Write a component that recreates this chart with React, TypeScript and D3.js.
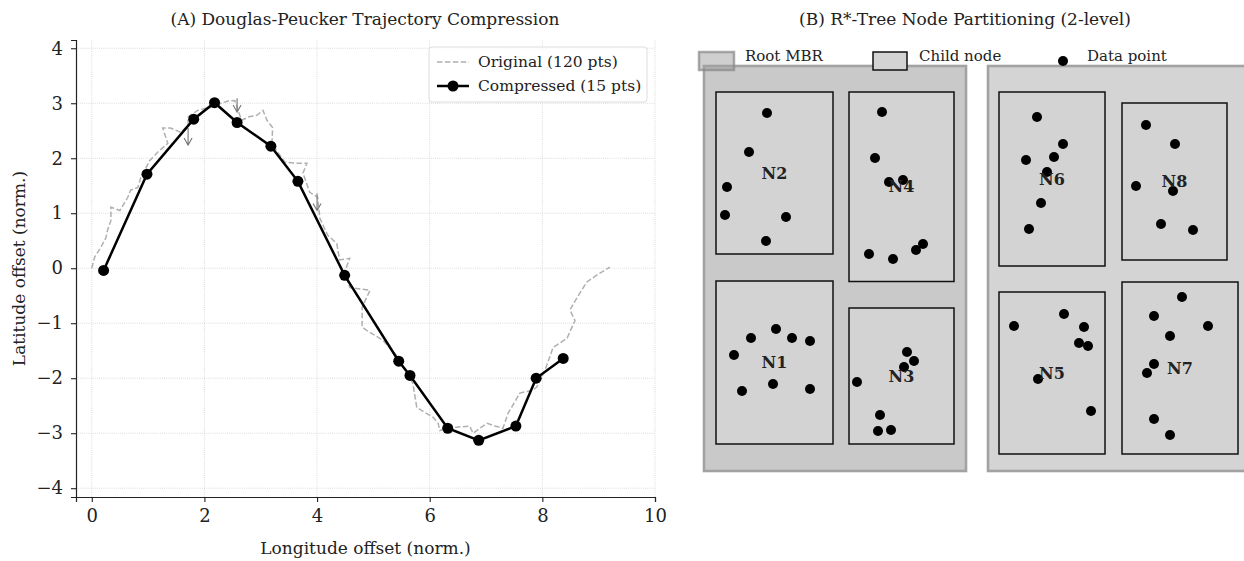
import * as d3 from "d3";
import { useEffect, useRef } from "react";

// --- Panel A: trajectory ---
const originalX = [0.0, 0.05, 0.16, 0.25, 0.28, 0.34, 0.34, 0.5, 0.64, 0.69, 0.82, 0.87, 0.96, 1.03, 1.17, 1.35, 1.26, 1.4, 1.58, 1.71, 1.71, 1.88, 2.02, 2.15, 2.29, 2.42, 2.54, 2.66, 2.81, 2.93, 3.04, 3.11, 3.21, 3.2, 3.3, 3.43, 3.62, 3.82, 3.75, 3.87, 4.01, 4.05, 4.12, 4.19, 4.35, 4.4, 4.58, 4.49, 4.58, 4.94, 4.8, 4.8, 4.88, 5.17, 5.38, 5.47, 5.58, 5.7, 5.77, 5.91, 6.06, 6.15, 6.18, 6.32, 6.48, 6.71, 6.77, 6.89, 7.02, 7.16, 7.3, 7.39, 7.5, 7.6, 7.83, 7.9, 8.05, 8.19, 8.31, 8.44, 8.58, 8.49, 8.63, 8.79, 8.99, 9.2];
const originalY = [0.0, 0.2, 0.38, 0.55, 0.69, 0.87, 1.11, 1.05, 1.29, 1.42, 1.47, 1.65, 1.82, 1.96, 2.11, 2.27, 2.55, 2.55, 2.47, 2.6, 2.75, 2.87, 2.91, 2.93, 3.0, 3.04, 3.05, 2.69, 2.76, 2.78, 2.87, 2.69, 2.56, 2.27, 2.11, 1.93, 1.91, 1.91, 1.73, 1.38, 1.29, 0.91, 0.75, 0.6, 0.45, 0.15, 0.18, -0.07, -0.35, -0.4, -0.71, -1.07, -1.13, -1.31, -1.55, -1.67, -1.89, -2.09, -2.53, -2.62, -2.71, -2.82, -2.95, -2.91, -2.89, -2.87, -3.0, -2.91, -2.82, -2.87, -2.91, -2.64, -2.45, -2.27, -2.22, -2.16, -1.85, -1.44, -1.36, -1.27, -0.95, -0.76, -0.51, -0.25, -0.11, 0.02];
const compressedX = [0.21, 0.98, 1.81, 2.18, 2.58, 3.18, 3.66, 4.49, 5.45, 5.65, 6.32, 6.87, 7.53, 7.89, 8.37];
const compressedY = [-0.04, 1.71, 2.71, 3.01, 2.65, 2.22, 1.58, -0.13, -1.69, -1.95, -2.91, -3.13, -2.87, -2.0, -1.64];
const arrowX = [1.71, 2.58, 4.0];
const arrowFromY = [2.55, 3.09, 1.36];
const arrowToY = [2.24, 2.84, 1.05];
const xTicks = [0, 2, 4, 6, 8, 10];
const yTicks = [-4, -3, -2, -1, 0, 1, 2, 3, 4];
const legendA = ["Original (120 pts)", "Compressed (15 pts)"];

// --- Panel B: R*-tree nodes ---
const rootX0 = [0, 28.4];
const rootX1 = [26.2, 55.4];
const rootY0 = [0, 0];
const rootY1 = [40.5, 40.5];
const rootFill = ["#c9c9c9", "#d4d4d4"];
const nodeNames = ["N2", "N4", "N1", "N3", "N6", "N8", "N5", "N7"];
const nodeX0 = [1.2, 14.5, 1.2, 14.5, 29.5, 41.8, 29.5, 41.8];
const nodeX1 = [12.9, 25.0, 12.9, 25.0, 40.1, 52.3, 40.1, 53.4];
const nodeY0 = [21.7, 18.95, 2.7, 2.7, 20.5, 21.1, 1.7, 1.7];
const nodeY1 = [37.9, 37.9, 19.0, 16.3, 37.9, 36.8, 17.9, 18.9];
const pointsN2 = [[6.3, 35.8], [4.5, 31.9], [2.3, 28.4], [2.1, 25.6], [8.2, 25.4], [6.2, 23.0]];
const pointsN4 = [[17.8, 35.9], [17.1, 31.3], [18.5, 28.9], [19.9, 29.1], [16.5, 21.7], [18.9, 21.2], [21.2, 22.1], [21.9, 22.7]];
const pointsN1 = [[7.2, 14.2], [4.7, 13.3], [8.8, 13.3], [10.6, 13.0], [3.0, 11.6], [6.9, 8.7], [3.8, 8.0], [10.6, 8.2]];
const pointsN3 = [[20.3, 11.9], [21.0, 11.0], [20.0, 10.4], [15.3, 8.9], [17.6, 5.6], [17.4, 4.0], [18.7, 4.1]];
const pointsN6 = [[33.3, 35.4], [35.9, 32.7], [35.0, 31.4], [32.2, 31.1], [34.3, 29.9], [33.7, 26.8], [32.5, 24.2]];
const pointsN8 = [[44.2, 34.6], [47.1, 32.7], [43.2, 28.5], [46.9, 28.0], [45.7, 24.7], [48.9, 24.1]];
const pointsN5 = [[36.0, 15.7], [31.0, 14.5], [38.0, 14.4], [37.5, 12.8], [38.4, 12.5], [33.4, 9.2], [38.7, 6.0]];
const pointsN7 = [[47.8, 17.4], [45.0, 15.5], [50.4, 14.5], [46.6, 13.5], [45.0, 10.7], [44.3, 9.8], [45.0, 5.2], [46.6, 3.6]];
const legendB = ["Root MBR", "Child node", "Data point"];

const FONT = "'DejaVu Serif', serif";

export default function App() {
  const ref = useRef<SVGSVGElement>(null);

  useEffect(() => {
    const width = 1244;
    const height = 561;
    const svg = d3.select(ref.current).attr("width", width).attr("height", height);
    svg.selectAll("*").remove();
    svg.style("font-family", FONT);

    // ================= Panel A =================
    const x = d3.scaleLinear().domain([-0.28, 10]).range([76, 655]);
    const y = d3.scaleLinear().domain([-4.16, 4.15]).range([497, 40]);
    const gA = svg.append("g");

    // grid
    gA.append("g")
      .selectAll("line")
      .data(xTicks)
      .join("line")
      .attr("x1", (d) => x(d)).attr("x2", (d) => x(d))
      .attr("y1", y.range()[0]).attr("y2", y.range()[1])
      .attr("stroke", "#c8c8c8").attr("stroke-width", 0.8).attr("stroke-dasharray", "0.8,1.3");
    gA.append("g")
      .selectAll("line")
      .data(yTicks)
      .join("line")
      .attr("y1", (d) => y(d)).attr("y2", (d) => y(d))
      .attr("x1", x.range()[0]).attr("x2", x.range()[1])
      .attr("stroke", "#c8c8c8").attr("stroke-width", 0.8).attr("stroke-dasharray", "0.8,1.3");

    // original trajectory
    const line = d3.line<number>().x((d) => x(originalX[d])).y((d) => y(originalY[d]));
    gA.append("path")
      .attr("d", line(d3.range(originalX.length)))
      .attr("fill", "none").attr("stroke", "#b0b0b0").attr("stroke-width", 1.5)
      .attr("stroke-dasharray", "5.5,2.4");

    // arrows
    arrowX.forEach((ax, i) => {
      const px = x(ax), y0 = y(arrowFromY[i]), y1 = y(arrowToY[i]);
      gA.append("path")
        .attr("d", `M${px},${y0}L${px},${y1}M${px - 4},${y1 - 7}L${px},${y1}L${px + 4},${y1 - 7}`)
        .attr("fill", "none").attr("stroke", "#777").attr("stroke-width", 1.1);
    });

    // compressed
    const cline = d3.line<number>().x((d) => x(compressedX[d])).y((d) => y(compressedY[d]));
    gA.append("path")
      .attr("d", cline(d3.range(compressedX.length)))
      .attr("fill", "none").attr("stroke", "#000").attr("stroke-width", 2.5);
    gA.append("g")
      .selectAll("circle")
      .data(d3.range(compressedX.length))
      .join("circle")
      .attr("cx", (d) => x(compressedX[d])).attr("cy", (d) => y(compressedY[d]))
      .attr("r", 5.5).attr("fill", "#000");

    // axes
    const xAxis = gA.append("g")
      .attr("transform", `translate(0,${y.range()[0]})`)
      .call(d3.axisBottom(x).tickValues(xTicks).tickSize(5).tickPadding(7));
    const yAxis = gA.append("g")
      .attr("transform", `translate(${x.range()[0]},0)`)
      .call(d3.axisLeft(y).tickValues(yTicks).tickSize(5).tickPadding(8));
    [xAxis, yAxis].forEach((g) => {
      g.select(".domain").attr("stroke", "#222").attr("stroke-width", 1.2);
      g.selectAll(".tick line").attr("stroke", "#222").attr("stroke-width", 1.1);
      g.selectAll(".tick text").attr("font-size", 18).attr("font-family", FONT).attr("fill", "#222");
    });

    gA.append("text")
      .attr("x", (x.range()[0] + x.range()[1]) / 2).attr("y", 554)
      .attr("text-anchor", "middle").attr("font-size", 17).attr("fill", "#222")
      .text("Longitude offset (norm.)");
    gA.append("text")
      .attr("transform", `translate(25,${(y.range()[0] + y.range()[1]) / 2}) rotate(-90)`)
      .attr("text-anchor", "middle").attr("font-size", 17).attr("fill", "#222")
      .text("Latitude offset (norm.)");
    gA.append("text")
      .attr("x", 365).attr("y", 25)
      .attr("text-anchor", "middle").attr("font-size", 17).attr("fill", "#222")
      .text("(A) Douglas-Peucker Trajectory Compression");

    // legend A
    const lg = gA.append("g").attr("transform", "translate(429,47)");
    lg.append("rect").attr("width", 218).attr("height", 55).attr("rx", 3)
      .attr("fill", "#fff").attr("fill-opacity", 0.8).attr("stroke", "#ddd");
    lg.append("line").attr("x1", 8).attr("x2", 40).attr("y1", 15).attr("y2", 15)
      .attr("stroke", "#b0b0b0").attr("stroke-width", 1.5).attr("stroke-dasharray", "5.5,2.4");
    lg.append("line").attr("x1", 8).attr("x2", 40).attr("y1", 39).attr("y2", 39)
      .attr("stroke", "#000").attr("stroke-width", 2.5);
    lg.append("circle").attr("cx", 24).attr("cy", 39).attr("r", 5.5).attr("fill", "#000");
    legendA.forEach((t, i) => {
      lg.append("text").attr("x", 49).attr("y", 20 + i * 24)
        .attr("font-size", 15.5).attr("fill", "#222").text(t);
    });

    // ================= Panel B =================
    const bx = d3.scaleLinear().domain([0, 54]).range([704, 1244]);
    const by = d3.scaleLinear().domain([0, 40.5]).range([471, 66]);
    const gB = svg.append("g");

    gB.append("g")
      .selectAll("rect")
      .data(d3.range(rootX0.length))
      .join("rect")
      .attr("x", (i) => bx(rootX0[i])).attr("y", (i) => by(rootY1[i]))
      .attr("width", (i) => bx(rootX1[i]) - bx(rootX0[i]))
      .attr("height", (i) => by(rootY0[i]) - by(rootY1[i]))
      .attr("fill", (i) => rootFill[i]).attr("stroke", "#a2a2a2").attr("stroke-width", 2.6);

    const nodePoints = [pointsN2, pointsN4, pointsN1, pointsN3, pointsN6, pointsN8, pointsN5, pointsN7];
    nodeNames.forEach((name, i) => {
      const g = gB.append("g");
      g.append("rect")
        .attr("x", bx(nodeX0[i])).attr("y", by(nodeY1[i]))
        .attr("width", bx(nodeX1[i]) - bx(nodeX0[i]))
        .attr("height", by(nodeY0[i]) - by(nodeY1[i]))
        .attr("fill", "#d3d3d3").attr("stroke", "#111").attr("stroke-width", 1.5);
      g.selectAll("circle")
        .data(nodePoints[i])
        .join("circle")
        .attr("cx", (d) => bx(d[0])).attr("cy", (d) => by(d[1]))
        .attr("r", 5).attr("fill", "#000");
      g.append("text")
        .attr("x", bx((nodeX0[i] + nodeX1[i]) / 2)).attr("y", by((nodeY0[i] + nodeY1[i]) / 2))
        .attr("dy", "0.35em").attr("text-anchor", "middle")
        .attr("font-size", 16).attr("font-weight", "bold").attr("fill", "#222")
        .text(name);
    });

    // legend B
    const lb = gB.append("g");
    lb.append("rect").attr("x", 699).attr("y", 52).attr("width", 35).attr("height", 18)
      .attr("fill", "#a0a0a0").attr("fill-opacity", 0.5).attr("stroke", "#888").attr("stroke-opacity", 0.7).attr("stroke-width", 2.5);
    lb.append("rect").attr("x", 873).attr("y", 52).attr("width", 34).attr("height", 18)
      .attr("fill", "#d3d3d3").attr("stroke", "#111").attr("stroke-width", 1.5);
    lb.append("circle").attr("cx", 1063).attr("cy", 61).attr("r", 5).attr("fill", "#000");
    const lbX = [745, 919, 1087];
    legendB.forEach((t, i) => {
      lb.append("text").attr("x", lbX[i]).attr("y", 61)
        .attr("font-size", 15).attr("fill", "#222").text(t);
    });

    gB.append("text")
      .attr("x", 965).attr("y", 25)
      .attr("text-anchor", "middle").attr("font-size", 17).attr("fill", "#222")
      .text("(B) R*-Tree Node Partitioning (2-level)");
  }, []);

  return (
    <div style={{ position: "absolute", left: 0, top: 0, width: 1244, height: 561, background: "#fff" }}>
      <svg ref={ref} />
    </div>
  );
}
